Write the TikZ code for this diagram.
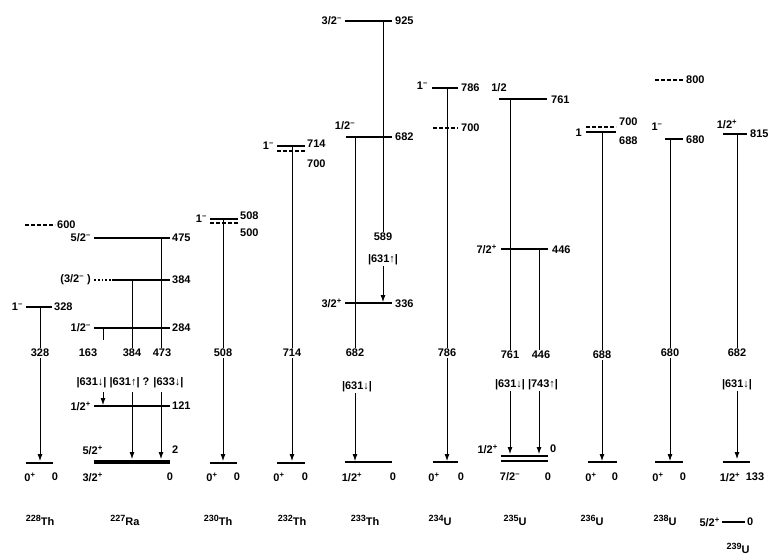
\documentclass[tikz,border=0pt]{standalone}
\usepackage{fontspec}
\setmainfont{Liberation Sans}
\usetikzlibrary{arrows.meta}
\tikzset{
  lvl/.style={line width=1.8pt},
  gnd/.style={line width=2.2pt},
  dlvl/.style={line width=1.8pt, dash pattern=on 4pt off 2pt},
  tr/.style={line width=0.8pt},
  tra/.style={line width=0.8pt, -{Latex[length=7pt,width=5pt]}},
  lab/.style={font=\bfseries\fontsize{11}{13}\selectfont, inner sep=1pt},
  nm/.style={font=\bfseries\fontsize{11}{13}\selectfont, inner sep=1pt},
}
\newcommand{\dn}{↓}
\newcommand{\up}{↑}
\newcommand{\nuc}[2]{\raisebox{4pt}{\fontsize{9}{10}\selectfont #1}#2}
\begin{document}
\begin{tikzpicture}[x=1pt,y=-1pt]
\useasboundingbox (0,0) rectangle (773,555);

% ---------------- 228Th
\draw[dlvl] (25,225) -- (55,225);
\node[lab,anchor=west] (a600) at (56,225) {600};
\draw[lvl] (26,307) -- (52,307);
\node[lab,anchor=east] (a328s) at (24,307) {1\textsuperscript{--}};
\node[lab,anchor=west] (a328) at (53,307) {328};
\coordinate (a1s) at (40,307);
\node[lab] (a1l) at (40,353) {328};
\coordinate (a1e) at (40,461);
\draw[tr] (a1s) -- (a1l);
\draw[tra] (a1l) -- (a1e);
\draw[gnd] (26,463) -- (53,463);
\node[lab] (ag1) at (30,477) {0\textsuperscript{+}};
\node[lab] (ag2) at (55,477) {0};
\node[nm] (aname) at (40,520) {\nuc{228}{Th}};

% ---------------- 227Ra
\draw[lvl] (94,238) -- (170,238);
\node[lab,anchor=east] (b475s) at (92,238) {5/2\textsuperscript{--}};
\node[lab,anchor=west] (b475) at (171,238) {475};
\draw[lvl, dotted] (94,280) -- (112,280);
\draw[lvl] (112,280) -- (170,280);
\node[lab,anchor=east] (b384s) at (92,280) {(3/2\textsuperscript{--} )};
\node[lab,anchor=west] (b384) at (171,280) {384};
\draw[lvl] (94,328) -- (170,328);
\node[lab,anchor=east] (b284s) at (92,328) {1/2\textsuperscript{--}};
\node[lab,anchor=west] (b284) at (171,328) {284};
\draw[lvl] (94,406) -- (170,406);
\node[lab,anchor=east] (b121s) at (92,406) {1/2\textsuperscript{+}};
\node[lab,anchor=west] (b121) at (171,406) {121};
\draw[line width=3.5pt] (94,462) -- (170,462);
\node[lab,anchor=east] (bg1) at (104,450) {5/2\textsuperscript{+}};
\node[lab,anchor=west] (bg2) at (171,450) {2};
\node[lab,anchor=east] (bg3) at (104,477) {3/2\textsuperscript{+}};
\node[lab] (bg4) at (170,477) {0};
\node[lab] (b163l) at (88,353) {163};
\node[lab] (b384l) at (132,353) {384};
\node[lab] (b473l) at (162,353) {473};
\node[lab] (bnil) at (130,383) {|631\dn| |631\up| ? |633\dn|};
\coordinate (b1s) at (103,328); \coordinate (b1m) at (103,340);
\coordinate (b1n) at (103,392); \coordinate (b1e) at (103,405);
\draw[tr] (b1s) -- (b1m);
\draw[tra] (b1n) -- (b1e);
\coordinate (b2s) at (132,280); \coordinate (b2n) at (132,392); \coordinate (b2e) at (132,459);
\draw[tr] (b2s) -- (b384l);
\draw[tra] (b2n) -- (b2e);
\coordinate (b3s) at (161,238); \coordinate (b3n) at (161,392); \coordinate (b3e) at (161,459);
\draw[tr] (b3s) -- (b473l.north -| b3s);
\draw[tra] (b3n) -- (b3e);
\node[nm] (bname) at (125,520) {\nuc{227}{Ra}};

% ---------------- 230Th
\draw[lvl] (210,219) -- (238,219);
\draw[dlvl] (210,223) -- (238,223);
\node[lab,anchor=east] (c508s) at (208,219) {1\textsuperscript{--}};
\node[lab,anchor=west] (c508) at (239,216) {508};
\node[lab,anchor=west] (c500) at (239,233) {500};
\coordinate (c1s) at (223,219);
\node[lab] (c1l) at (223,353) {508};
\coordinate (c1e) at (223,461);
\draw[tr] (c1s) -- (c1l);
\draw[tra] (c1l) -- (c1e);
\draw[gnd] (210,463) -- (237,463);
\node[lab] (cg1) at (212,477) {0\textsuperscript{+}};
\node[lab] (cg2) at (237,477) {0};
\node[nm] (cname) at (218,520) {\nuc{230}{Th}};

% ---------------- 232Th
\draw[lvl] (277,146) -- (305,146);
\draw[dlvl] (277,151) -- (305,151);
\node[lab,anchor=east] (d714s) at (275,146) {1\textsuperscript{--}};
\node[lab,anchor=west] (d714) at (306,144) {714};
\node[lab,anchor=west] (d700) at (306,164) {700};
\coordinate (d1s) at (292,146);
\node[lab] (d1l) at (292,353) {714};
\coordinate (d1e) at (292,461);
\draw[tr] (d1s) -- (d1l);
\draw[tra] (d1l) -- (d1e);
\draw[gnd] (277,463) -- (305,463);
\node[lab] (dg1) at (279,477) {0\textsuperscript{+}};
\node[lab] (dg2) at (305,477) {0};
\node[nm] (dname) at (292,520) {\nuc{232}{Th}};

% ---------------- 233Th
\draw[lvl] (345,21) -- (392,21);
\node[lab,anchor=east] (e925s) at (343,21) {3/2\textsuperscript{--}};
\node[lab,anchor=west] (e925) at (394,21) {925};
\draw[lvl] (346,137) -- (392,137);
\node[lab] (e682s) at (345,126) {1/2\textsuperscript{--}};
\node[lab,anchor=west] (e682) at (394,137) {682};
\draw[lvl] (345,303) -- (392,303);
\node[lab,anchor=east] (e336s) at (343,303) {3/2\textsuperscript{+}};
\node[lab,anchor=west] (e336) at (394,304) {336};
\coordinate (e1s) at (383,21);
\node[lab] (e1l) at (383,237) {589};
\node[lab] (e1n) at (383,260) {|631\up|};
\coordinate (e1e) at (383,302);
\draw[tr] (e1s) -- (e1l);
\draw[tra] (e1n) -- (e1e);
\coordinate (e2s) at (355,137);
\node[lab] (e2l) at (355,353) {682};
\node[lab] (e2n) at (357,387) {|631\dn|};
\coordinate (e2e) at (355,461);
\draw[tr] (e2s) -- (e2l);
\draw[tra] (e2n.south -| e2s) -- (e2e);
\draw[gnd] (345,462) -- (392,462);
\node[lab] (eg1) at (352,477) {1/2\textsuperscript{+}};
\node[lab] (eg2) at (393,477) {0};
\node[nm] (ename) at (365,520) {\nuc{233}{Th}};

% ---------------- 234U
\draw[lvl] (432,88) -- (458,88);
\node[lab,anchor=east] (f786s) at (429,86) {1\textsuperscript{--}};
\node[lab,anchor=west] (f786) at (460,88) {786};
\draw[dlvl] (433,128) -- (458,128);
\node[lab,anchor=west] (f700) at (460,128) {700};
\coordinate (f1s) at (447,88);
\node[lab] (f1l) at (447,353) {786};
\coordinate (f1e) at (447,461);
\draw[tr] (f1s) -- (f1l);
\draw[tra] (f1l) -- (f1e);
\draw[gnd] (433,462) -- (458,462);
\node[lab] (fg1) at (434,477) {0\textsuperscript{+}};
\node[lab] (fg2) at (461,477) {0};
\node[nm] (fname) at (440,520) {\nuc{234}{U}};

% ---------------- 235U
\draw[lvl] (499,99) -- (547,99);
\node[lab] (g761s) at (499,88) {1/2};
\node[lab,anchor=west] (g761) at (550,100) {761};
\draw[lvl] (501,249) -- (548,249);
\node[lab,anchor=east] (g446s) at (498,249) {7/2\textsuperscript{+}};
\node[lab,anchor=west] (g446) at (551,250) {446};
\coordinate (g1s) at (510,99);
\node[lab] (g1l) at (510,355) {761};
\node[lab] (g1n) at (510,385) {|631\dn|};
\coordinate (g1e) at (510,454);
\draw[tr] (g1s) -- (g1l);
\draw[tra] (g1n) -- (g1e);
\coordinate (g2s) at (539,249);
\node[lab] (g2l) at (541,355) {446};
\node[lab] (g2n) at (543,385) {|743\up|};
\coordinate (g2e) at (539,454);
\draw[tr] (g2s) -- (g2l.north -| g2s);
\draw[tra] (g2n.south -| g2s) -- (g2e);
\draw[lvl] (501,456) -- (548,456);
\draw[lvl] (501,461) -- (548,461);
\node[lab,anchor=east] (gg1) at (499,449) {1/2\textsuperscript{+}};
\node[lab,anchor=west] (gg2) at (549,449) {0};
\node[lab] (gg3) at (510,477) {7/2\textsuperscript{--}};
\node[lab] (gg4) at (548,477) {0};
\node[nm] (gname) at (515,520) {\nuc{235}{U}};

% ---------------- 236U
\draw[dlvl] (586,127) -- (616,127);
\draw[lvl] (586,132) -- (616,132);
\node[lab,anchor=east] (h688s) at (583,133) {1};
\node[lab,anchor=west] (h700) at (618,122) {700};
\node[lab,anchor=west] (h688) at (618,141) {688};
\coordinate (h1s) at (602,132);
\node[lab] (h1l) at (602,355) {688};
\coordinate (h1e) at (602,461);
\draw[tr] (h1s) -- (h1l);
\draw[tra] (h1l) -- (h1e);
\draw[gnd] (588,462) -- (617,462);
\node[lab] (hg1) at (591,477) {0\textsuperscript{+}};
\node[lab] (hg2) at (615,477) {0};
\node[nm] (hname) at (592,520) {\nuc{236}{U}};

% ---------------- 238U
\draw[dlvl] (655,80) -- (683,80);
\node[lab,anchor=west] (i800) at (685,80) {800};
\draw[lvl] (665,139) -- (683,139);
\node[lab] (i680s) at (657,127) {1\textsuperscript{--}};
\node[lab,anchor=west] (i680) at (685,140) {680};
\coordinate (i1s) at (670,139);
\node[lab] (i1l) at (670,353) {680};
\coordinate (i1e) at (670,461);
\draw[tr] (i1s) -- (i1l);
\draw[tra] (i1l) -- (i1e);
\draw[gnd] (655,462) -- (683,462);
\node[lab] (ig1) at (658,477) {0\textsuperscript{+}};
\node[lab] (ig2) at (683,477) {0};
\node[nm] (iname) at (665,520) {\nuc{238}{U}};

% ---------------- 239U
\draw[lvl] (723,134) -- (747,134);
\node[lab] (j815s) at (727,124) {1/2\textsuperscript{+}};
\node[lab,anchor=west] (j815) at (749,134) {815};
\coordinate (j1s) at (737,134);
\node[lab] (j1l) at (737,353) {682};
\node[lab] (j1n) at (737,385) {|631\dn|};
\coordinate (j1e) at (737,459);
\draw[tr] (j1s) -- (j1l);
\draw[tra] (j1n) -- (j1e);
\draw[gnd] (723,462) -- (750,462);
\node[lab] (jg1) at (730,477) {1/2\textsuperscript{+}};
\node[lab] (jg2) at (755,477) {133};
\node[lab,anchor=east] (jb1) at (721,522) {5/2\textsuperscript{+}};
\draw[lvl] (722,522) -- (745,522);
\node[lab,anchor=west] (jb2) at (746,522) {0};
\node[nm] (jname) at (738,548) {\nuc{239}{U}};
\end{tikzpicture}
\end{document}
